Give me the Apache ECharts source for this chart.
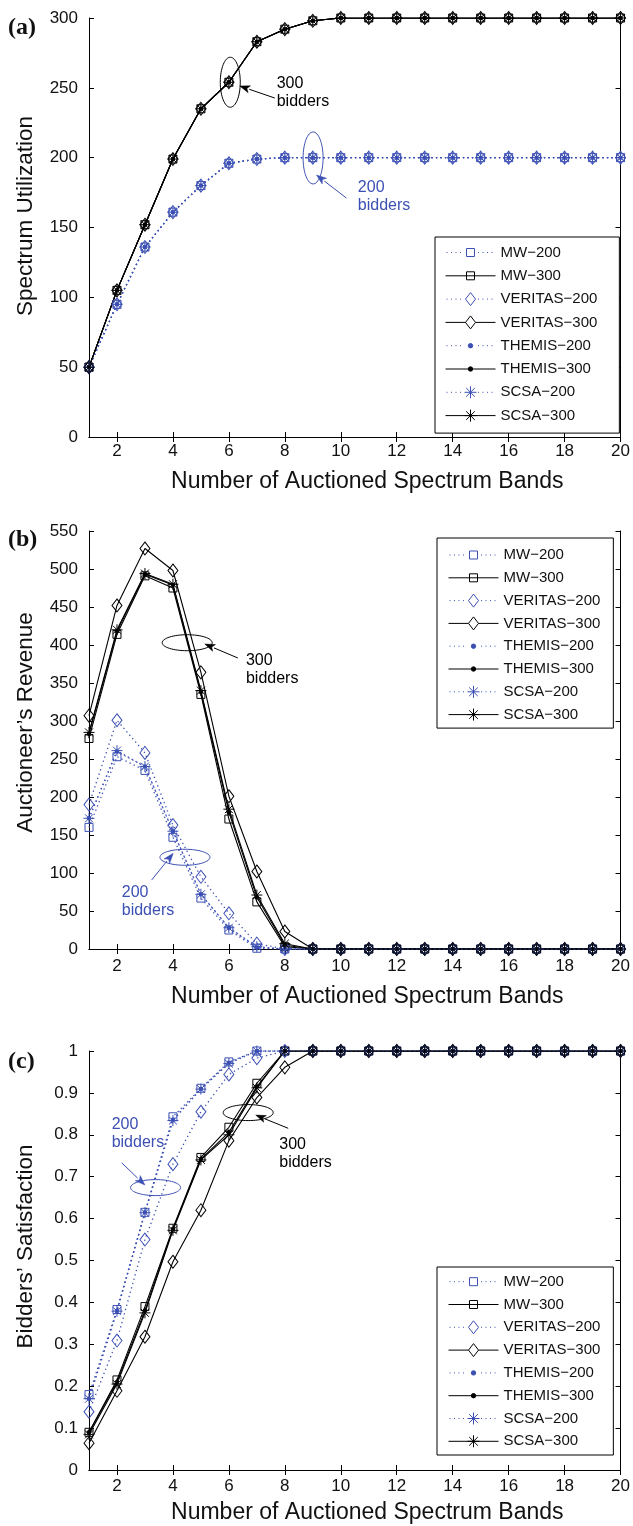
<!DOCTYPE html>
<html><head><meta charset="utf-8">
<script src="https://cdn.jsdelivr.net/npm/echarts@6/dist/echarts.min.js"></script>
<style>html,body{margin:0;padding:0;background:#fff}#c{width:633px;height:1526px}</style>
</head><body><div id="c"></div>
<script>
// ---------- data ----------
const bands = ['1','2','3','4','5','6','7','8','9','10','11','12','13','14','15','16','17','18','19','20'];
const seriesNames = ['MW\u2212200','MW\u2212300','VERITAS\u2212200','VERITAS\u2212300','THEMIS\u2212200','THEMIS\u2212300','SCSA\u2212200','SCSA\u2212300'];

// (a) Spectrum Utilization
const mw200a   = [50,95,136,161,180,196,199,200,200,200,200,200,200,200,200,200,200,200,200,200];
const mw300a   = [50,105,152,199,235,254,283,292,298,300,300,300,300,300,300,300,300,300,300,300];
const ver200a  = [50,95,136,161,180,196,199,200,200,200,200,200,200,200,200,200,200,200,200,200];
const ver300a  = [50,105,152,199,235,254,283,292,298,300,300,300,300,300,300,300,300,300,300,300];
const them200a = [50,95,136,161,180,196,199,200,200,200,200,200,200,200,200,200,200,200,200,200];
const them300a = [50,105,152,199,235,254,283,292,298,300,300,300,300,300,300,300,300,300,300,300];
const scsa200a = [50,95,136,161,180,196,199,200,200,200,200,200,200,200,200,200,200,200,200,200];
const scsa300a = [50,105,152,199,235,254,283,292,298,300,300,300,300,300,300,300,300,300,300,300];

// (b) Auctioneer's Revenue
const mw200b   = [160,253,235,147,67,25,1,0,0,0,0,0,0,0,0,0,0,0,0,0];
const mw300b   = [277,414,491,475,335,171,62,3,0,0,0,0,0,0,0,0,0,0,0,0];
const ver200b  = [190,301,258,163,95,47,7,0,0,0,0,0,0,0,0,0,0,0,0,0];
const ver300b  = [307,452,527,498,364,201,102,23,0,0,0,0,0,0,0,0,0,0,0,0];
const them200b = [172,260,240,155,72,28,2,0,0,0,0,0,0,0,0,0,0,0,0,0];
const them300b = [283,418,493,479,338,180,68,5,0,0,0,0,0,0,0,0,0,0,0,0];
const scsa200b = [172,261,240,155,72,28,3,0,0,0,0,0,0,0,0,0,0,0,0,0];
const scsa300b = [285,420,494,480,340,184,71,7,0,0,0,0,0,0,0,0,0,0,0,0];

// (c) Bidders' Satisfaction
const mw200c   = [0.18,0.383,0.615,0.843,0.911,0.974,1,1,1,1,1,1,1,1,1,1,1,1,1,1];
const mw300c   = [0.09,0.215,0.39,0.577,0.746,0.818,0.923,1,1,1,1,1,1,1,1,1,1,1,1,1];
const ver200c  = [0.139,0.309,0.55,0.73,0.855,0.944,0.983,1,1,1,1,1,1,1,1,1,1,1,1,1];
const ver300c  = [0.064,0.189,0.318,0.497,0.62,0.786,0.889,0.961,1,1,1,1,1,1,1,1,1,1,1,1];
const them200c = [0.17,0.38,0.615,0.836,0.91,0.972,1,1,1,1,1,1,1,1,1,1,1,1,1,1];
const them300c = [0.09,0.21,0.38,0.575,0.742,0.806,0.915,1,1,1,1,1,1,1,1,1,1,1,1,1];
const scsa200c = [0.17,0.379,0.614,0.834,0.909,0.97,1,1,1,1,1,1,1,1,1,1,1,1,1,1];
const scsa300c = [0.085,0.205,0.375,0.572,0.74,0.8,0.912,1,1,1,1,1,1,1,1,1,1,1,1,1];

const yNames = ['Spectrum Utilization', 'Auctioneer\u2019s Revenue', 'Bidders\u2019 Satisfaction'];
const xName = 'Number of Auctioned Spectrum Bands';
const yMax = [300, 550, 1];
const yStep = [50, 50, 0.1];
const panelLabels = ['(a)', '(b)', '(c)'];

const panelData = [
  [mw200a, mw300a, ver200a, ver300a, them200a, them300a, scsa200a, scsa300a],
  [mw200b, mw300b, ver200b, ver300b, them200b, them300b, scsa200b, scsa300b],
  [mw200c, mw300c, ver200c, ver300c, them200c, them300c, scsa200c, scsa300c]
];

// annotations in data units: [panel, ellipse center x, y, rx px, ry px, arrow from x,y, arrow to x,y, text x,y, text, is200]
const annotations = [
  [0, 6.05, 254, 10, 25, 7.64, 242.7, 6.39, 251.3, 7.71, 260, '300\nbidders', false],
  [0, 9.01, 199.8, 10, 26, 10.2, 171.1, 9.13, 187.6, 10.61, 185.5, '200\nbidders', true],
  [1, 4.51, 403, 25, 8, 6.32, 382.9, 5.14, 401.3, 6.61, 392, '300\nbidders', false],
  [1, 4.43, 120.7, 25, 8, 3.24, 90.8, 4.01, 125.9, 2.17, 87, '200\nbidders', true],
  [2, 3.38, 0.674, 25, 8, 2.17, 0.733, 3.0, 0.680, 1.81, 0.847, '200\nbidders', true],
  [2, 6.69, 0.853, 25, 8, 8.12, 0.8155, 6.96, 0.847, 7.8, 0.799, '300\nbidders', false]
];

// ---------- layout / style ----------
const BLUE = '#3c50b4', BLACK = '#000', TXT = '#111';
const FONT = '"Liberation Sans", Arial, Helvetica, sans-serif';
const gridTops = [18, 531, 1051];
const gridHeights = [419, 418, 419];
const xNameGaps = [33, 36, 31];
const xLabelMargins = [6, 9, 8];
const yNameShift = [23, 35, 28];
const legendTops = [237, 538, 1267];
const legendLefts = [435, 437, 437];
const legendGaps = [8.3, 7.8, 7.8];
const legendPads = [[8, 22, 10, 10], [9.5, 13, 6, 11], [7.2, 13, 6.2, 11]];
const panelLabelY = [28, 540, 1062];

const ASTER = 'path://M0,-1L0,1M-1,0L1,0M-0.72,-0.72L0.72,0.72M-0.72,0.72L0.72,-0.72';
const methodStyle = [
  {symbol: 'rect', size: 8, filled: false},
  {symbol: 'diamond', size: [10, 13], filled: false},
  {symbol: 'circle', size: 4.5, filled: true},
  {symbol: ASTER, size: 11, filled: false}
];

function dotted(skipA, skipB) {
  let s = '';
  for (let x = 1; x < 50; x += 4.5) {
    if (x + 1 > skipA && x < skipB) continue;
    s += 'M' + x + ',7L' + (x + 1) + ',7';
  }
  return s;
}
const markerPaths = [
  'M21,3L29,3L29,11L21,11Z',
  'M25,0.5L30,7L25,13.5L20,7Z',
  'M22.8,7A2.2,2.2 0 1 1 27.2,7A2.2,2.2 0 1 1 22.8,7Z',
  'M25,1L25,13M19,7L31,7M20.7,2.7L29.3,11.3M20.7,11.3L29.3,2.7'
];
function legendIcon(m, is200) {
  const anchor = 'M0,0M50,14';
  let line;
  if (is200) line = dotted(19, 31);
  else line = (m === 1) ? 'M0,7L20,7M30,7L50,7' : 'M0,7L50,7';
  return 'path://' + anchor + line + markerPaths[m];
}

const grids = [], xAxes = [], yAxes = [], series = [], legends = [];
const evenOnly = function (idx) { return idx % 2 === 1; };

for (let g = 0; g < 3; g++) {
  grids.push({left: 89, width: 532, top: gridTops[g], height: gridHeights[g], containLabel: false});
  const axLine = {show: true, lineStyle: {color: BLACK, width: 1}};
  xAxes.push({
    type: 'category', gridIndex: g, data: bands, boundaryGap: false, position: 'bottom',
    axisLine: axLine,
    axisTick: {show: true, inside: true, length: 5, interval: evenOnly, lineStyle: {color: BLACK}},
    axisLabel: {interval: evenOnly, fontSize: 17, color: TXT, fontFamily: FONT, margin: xLabelMargins[g]},
    splitLine: {show: false},
    name: xName, nameLocation: 'middle', nameGap: xNameGaps[g],
    nameTextStyle: {fontSize: 23, color: TXT, fontFamily: FONT, padding: [0, 0, 0, 25]}
  });
  xAxes.push({
    type: 'category', gridIndex: g, data: bands, boundaryGap: false, position: 'top',
    axisLine: axLine,
    axisTick: {show: true, inside: true, length: 5, interval: evenOnly, lineStyle: {color: BLACK}},
    axisLabel: {show: false}, splitLine: {show: false}
  });
  const fmt = g === 2 ? function (v) { return (v === 0 || v === 1) ? String(v) : v.toFixed(1); } : null;
  yAxes.push({
    type: 'value', gridIndex: g, min: 0, max: yMax[g], interval: yStep[g], position: 'left',
    axisLine: axLine,
    axisTick: {show: true, inside: true, length: 5, lineStyle: {color: BLACK}},
    axisLabel: {fontSize: 17, color: TXT, fontFamily: FONT, margin: 11, formatter: fmt},
    splitLine: {show: false},
    name: yNames[g], nameLocation: 'middle', nameGap: 52,
    nameTextStyle: {fontSize: 22.5, color: TXT, fontFamily: FONT, padding: [0, 0, 0, yNameShift[g]]}
  });
  yAxes.push({
    type: 'value', gridIndex: g, min: 0, max: yMax[g], interval: yStep[g], position: 'right',
    axisLine: axLine,
    axisTick: {show: true, inside: true, length: 5, lineStyle: {color: BLACK}},
    axisLabel: {show: false}, splitLine: {show: false}
  });

  for (let k = 0; k < 8; k++) {
    const m = Math.floor(k / 2);
    const is200 = k % 2 === 0;
    const col = is200 ? BLUE : BLACK;
    const ms = methodStyle[m];
    series.push({
      type: 'line', name: seriesNames[k], data: panelData[g][k],
      xAxisIndex: 2 * g, yAxisIndex: 2 * g,
      symbol: ms.symbol, symbolSize: ms.size, showAllSymbol: true, showSymbol: true,
      lineStyle: {color: col, width: is200 ? 1.3 : 1.1, type: is200 ? [1.3, 3.2] : 'solid'},
      itemStyle: {color: ms.filled ? col : 'rgba(0,0,0,0)', borderColor: col, borderWidth: ms.filled ? 0 : 1},
      emphasis: {disabled: true}, silent: true, animation: false
    });
  }

  legends.push({
    orient: 'vertical', left: legendLefts[g], top: legendTops[g],
    itemWidth: 50, itemHeight: 14, itemGap: legendGaps[g],
    padding: legendPads[g], backgroundColor: '#fff', borderColor: BLACK, borderWidth: 1, borderRadius: 0,
    selectedMode: false,
    textStyle: {fontSize: 15, color: TXT, fontFamily: FONT},
    data: seriesNames.map(function (n, k) {
      const m = Math.floor(k / 2);
      const is200 = k % 2 === 0;
      const col = is200 ? BLUE : BLACK;
      return {
        name: n, icon: legendIcon(m, is200),
        itemStyle: {color: methodStyle[m].filled ? col : 'rgba(0,0,0,0)', borderColor: col, borderWidth: 1}
      };
    })
  });
}

const chart = echarts.init(document.getElementById('c'), null, {renderer: 'canvas'});
chart.setOption({
  animation: false, backgroundColor: '#fff',
  grid: grids, xAxis: xAxes, yAxis: yAxes, series: series, legend: legends
});

// ---------- annotations (positions converted through the axes) ----------
function toPx(g, x, y) {
  const x0 = chart.convertToPixel({xAxisIndex: 2 * g}, 0);
  const x19 = chart.convertToPixel({xAxisIndex: 2 * g}, 19);
  const py = chart.convertToPixel({yAxisIndex: 2 * g}, y);
  return [x0 + (x - 1) / 19 * (x19 - x0), py];
}
const gfx = [];
annotations.forEach(function (a) {
  const g = a[0], col = a[12] ? BLUE : BLACK;
  const c = toPx(g, a[1], a[2]);
  gfx.push({type: 'ellipse', shape: {cx: c[0], cy: c[1], rx: a[3], ry: a[4]},
    style: {stroke: col, fill: null, lineWidth: 1}, silent: true, z: 100});
  const p1 = toPx(g, a[5], a[6]), p2 = toPx(g, a[7], a[8]);
  const dx = p2[0] - p1[0], dy = p2[1] - p1[1], L = Math.sqrt(dx * dx + dy * dy);
  const ux = dx / L, uy = dy / L, hl = 10, hw = 3.6;
  const bx = p2[0] - ux * hl, by = p2[1] - uy * hl;
  gfx.push({type: 'line', shape: {x1: p1[0], y1: p1[1], x2: bx, y2: by},
    style: {stroke: col, lineWidth: 1}, silent: true, z: 100});
  gfx.push({type: 'polygon', shape: {points: [[p2[0], p2[1]], [bx - uy * hw, by + ux * hw], [bx + ux * 2.5, by + uy * 2.5], [bx + uy * hw, by - ux * hw]]},
    style: {fill: col, stroke: col, lineWidth: 0.5}, silent: true, z: 100});
  const t = toPx(g, a[9], a[10]);
  gfx.push({type: 'text', x: t[0], y: t[1], silent: true, z: 100,
    style: {text: a[11], fill: col, font: '16px ' + FONT, lineHeight: 18.5, verticalAlign: 'top', align: 'left'}});
});
for (let g = 0; g < 3; g++) {
  gfx.push({type: 'text', x: 8, y: panelLabelY[g], silent: true, z: 100,
    style: {text: panelLabels[g], fill: '#111', font: 'bold 24px "Liberation Serif", "Times New Roman", serif', verticalAlign: 'middle', align: 'left'}});
}
chart.setOption({graphic: gfx});
</script>
</body></html>
